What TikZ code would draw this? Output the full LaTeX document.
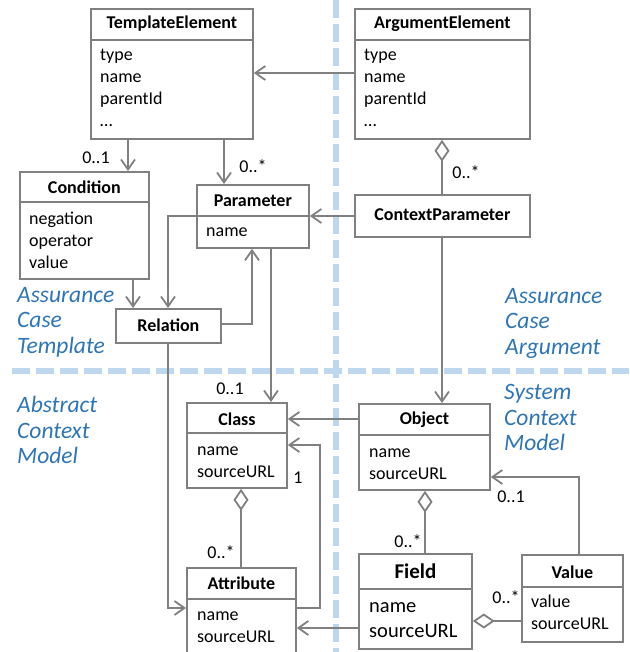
\documentclass[tikz,border=0pt]{standalone}
\usepackage{fontspec}
\setmainfont{Carlito}
\usetikzlibrary{arrows.meta}

\definecolor{linegray}{RGB}{128,128,128}
\definecolor{regionblue}{RGB}{46,117,182}
\definecolor{dashblue}{RGB}{189,215,238}

\tikzset{
  umlbox/.style={draw=linegray, line width=1.8pt, fill=white, anchor=north west, inner sep=0pt},
  umltitle/.style={font=\fontsize{18}{22}\selectfont\bfseries, inner sep=0pt},
  umlattr/.style={font=\fontsize{18}{22}\selectfont, inner sep=0pt, anchor=base west},
  mult/.style={font=\fontsize{18}{22}\selectfont, inner sep=0pt},
  region/.style={font=\fontsize{23.5}{27}\selectfont\itshape, text=regionblue, inner sep=0pt, anchor=base west},
  conn/.style={draw=linegray, line width=1.8pt, -{Straight Barb[length=10pt,width=14pt]}},
  aggr/.style={draw=linegray, line width=1.8pt, {Diamond[fill=white,length=22pt,width=15pt]}-},
  sepline/.style={draw=linegray, line width=1.8pt},
  divider/.style={draw=dashblue, line width=6pt, dash pattern=on 18pt off 6pt},
}

% horizontal rule under a class header, #2 below the top edge
\newcommand\headerline[2]{\draw[sepline] ([yshift=-#2pt]#1.north west) -- ([yshift=-#2pt]#1.north east);}
% class name centred #2 below the top edge
\newcommand\classtitle[4][]{\node[umltitle,#1] (#2-t) at ([yshift=-#3pt]#2.north) {#4};}
% attribute lines: box, left inset, first baseline, line spacing, entries
\newcommand\attrlist[6][]{%
  \foreach \txt [count=\i from 0] in {#6} {%
    \node[umlattr,#1] (#2-a\i) at ([xshift=#3pt, yshift={-(#4+#5*\i)*1pt}]#2.north west) {\txt};}}

\begin{document}
\begin{tikzpicture}[x=1pt, y=-1pt]
\useasboundingbox (0,0) rectangle (629,652);
\clip (0,0) rectangle (629,652);

% region dividers
\draw[divider] (336,0) -- (336,652);
\draw[divider] (12,371) -- (629,371);

% assurance case template
\node[umlbox, minimum width=162pt, minimum height=130pt] (te) at (90,8) {};
\headerline{te}{32}
\classtitle{te}{16}{TemplateElement}
\attrlist{te}{10}{53}{22}{type,name,parentId,\ldots}

\node[umlbox, minimum width=129pt, minimum height=107pt] (cond) at (19,171) {};
\headerline{cond}{31}
\classtitle{cond}{16}{Condition}
\attrlist{cond}{10}{53}{22}{negation,operator,value}

\node[umlbox, minimum width=112pt, minimum height=63pt] (par) at (196,184) {};
\headerline{par}{32}
\classtitle{par}{17}{Parameter}
\attrlist{par}{10}{52}{22}{name}

\node[umlbox, minimum width=105pt, minimum height=34pt] (rel) at (115,308) {};
\classtitle{rel}{17}{Relation}

% assurance case argument
\node[umlbox, minimum width=175pt, minimum height=130pt] (ae) at (354,8) {};
\headerline{ae}{32}
\classtitle{ae}{16}{ArgumentElement}
\attrlist{ae}{10}{53}{22}{type,name,parentId,\ldots}

\node[umlbox, minimum width=175pt, minimum height=42pt] (cp) at (354,194) {};
\classtitle{cp}{21}{ContextParameter}

% abstract context model
\node[umlbox, minimum width=100pt, minimum height=85pt] (cls) at (186,402) {};
\headerline{cls}{31}
\classtitle{cls}{17}{Class}
\attrlist{cls}{11}{53}{22}{name,sourceURL}

\node[umlbox, minimum width=109pt, minimum height=100pt] (attr) at (186,567) {};
\headerline{attr}{32}
\classtitle{attr}{16}{Attribute}
\attrlist{attr}{11}{53}{22}{name,sourceURL}

% system context model
\node[umlbox, minimum width=131pt, minimum height=86pt] (obj) at (358,403) {};
\headerline{obj}{32}
\classtitle{obj}{17}{Object}
\attrlist{obj}{11}{54}{22}{name,sourceURL}

\node[umlbox, minimum width=113pt, minimum height=95pt] (fld) at (358,553) {};
\headerline{fld}{36}
\classtitle[font=\fontsize{21}{25}\selectfont\bfseries]{fld}{18}{Field}
\attrlist[font=\fontsize{20.5}{25}\selectfont]{fld}{11}{59}{25}{name,sourceURL}

\node[umlbox, minimum width=101pt, minimum height=87pt] (val) at (521,554) {};
\headerline{val}{33}
\classtitle{val}{18}{Value}
\attrlist{val}{10}{53}{22}{value,sourceURL}

% associations
\draw[conn] ([yshift=-65pt]ae.north west) -- ([yshift=-65pt]te.north east);
\draw[conn] ([xshift=38pt]te.south west) -- ([xshift=109pt]cond.north west);
\draw[conn] ([xshift=134pt]te.south west) -- ([xshift=28pt]par.north west);
\draw[aggr] ([xshift=88pt]ae.south west) -- ([xshift=88pt]cp.north west);
\draw[conn] ([yshift=-22pt]cp.north west) -- ([yshift=-32pt]par.north east);
\draw[conn] ([yshift=-32pt]par.north west) -| ([xshift=53pt]rel.north west);
\draw[conn] ([xshift=114pt]cond.south west) -- ([xshift=18pt]rel.north west);
\draw[conn] ([yshift=-16pt]rel.north east) -| ([xshift=56pt]par.south west);
\draw[conn] ([xshift=53pt]rel.south west) |- ([yshift=-41pt]attr.north west);
\draw[conn] ([xshift=75pt]par.south west) -- ([xshift=85pt]cls.north west);
\draw[conn] ([yshift=-16pt]obj.north west) -- ([yshift=-17pt]cls.north east);
\draw[conn] ([xshift=88pt]cp.south west) -- ([xshift=84pt]obj.north west);
\draw[conn] ([yshift=-41pt]attr.north east) -- ++(23,0) |- ([yshift=-43pt]cls.north east);
\draw[aggr] ([xshift=55pt]cls.south west) -- ([xshift=55pt]attr.north west);
\draw[conn] ([yshift=-75pt]fld.north west) -- ([yshift=-61pt]attr.north east);
\draw[aggr] ([xshift=67pt]obj.south west) -- ([xshift=67pt]fld.north west);
\draw[conn] ([xshift=58pt]val.north west) |- ([yshift=-74pt]obj.north east);
\draw[aggr] ([yshift=-68pt]fld.north east) -- ([yshift=-67pt]val.north west);

% multiplicities
\node[mult] (m1) at (96,158) {0..1};
\node[mult] (m2) at (253,166) {0..*};
\node[mult] (m3) at (466,172) {0..*};
\node[mult] (m4) at (230,389) {0..1};
\node[mult] (m5) at (298,478) {1};
\node[mult] (m6) at (221,552) {0..*};
\node[mult] (m7) at (408,541) {0..*};
\node[mult] (m8) at (511,497) {0..1};
\node[mult] (m9) at (506,597) {0..*};

% region captions
\node[region] (r1a) at (17,302) {Assurance};
\node[region] (r1b) at (17,327) {Case};
\node[region] (r1c) at (17,353) {Template};
\node[region] (r2a) at (505,303) {Assurance};
\node[region] (r2b) at (505,328) {Case};
\node[region] (r2c) at (505,354) {Argument};
\node[region] (r3a) at (17,412) {Abstract};
\node[region] (r3b) at (17,438) {Context};
\node[region] (r3c) at (17,463) {Model};
\node[region] (r4a) at (504,399) {System};
\node[region] (r4b) at (504,425) {Context};
\node[region] (r4c) at (504,450) {Model};
\end{tikzpicture}
\end{document}
